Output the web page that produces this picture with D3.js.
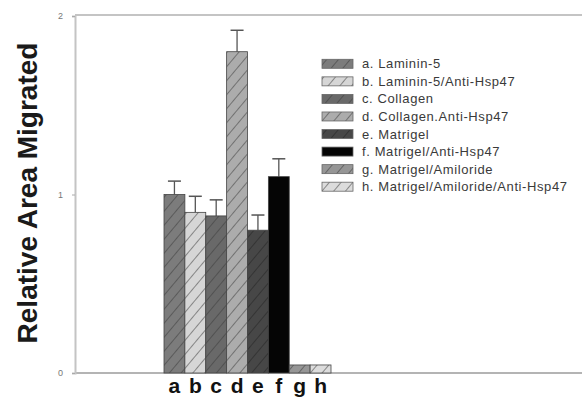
<!DOCTYPE html>
<html>
<head>
<meta charset="utf-8">
<script src="https://cdn.jsdelivr.net/npm/d3@7"></script>
<style>
  body { margin: 0; background: #fff; }
  svg { display: block; }
</style>
</head>
<body>
<div id="chart"></div>
<script>
var categories = ["a", "b", "c", "d", "e", "f", "g", "h"];
var values = [1.0, 0.9, 0.88, 1.8, 0.8, 1.1, 0.045, 0.045];
var errors = [0.075, 0.09, 0.09, 0.12, 0.085, 0.1, 0, 0];
var legendLabels = ["a. Laminin-5", "b. Laminin-5/Anti-Hsp47", "c. Collagen", "d. Collagen.Anti-Hsp47",
  "e. Matrigel", "f. Matrigel/Anti-Hsp47", "g. Matrigel/Amiloride", "h. Matrigel/Amiloride/Anti-Hsp47"];
var yTicks = [0, 1, 2];

var fills = ["#7c7c7c", "#d6d6d6", "#696969", "#acacac", "#474747", "#050505", "#969696", "#dcdcdc"];
var hatched = [true, true, true, true, true, false, true, true];

var W = 582, H = 402;
var svg = d3.select("#chart").append("svg").attr("width", W).attr("height", H);

var y = d3.scaleLinear().domain([0, 2]).range([373, 16]);
var x = d3.scaleBand().domain(categories).range([164, 331]).padding(0);

// hatch patterns
var defs = svg.append("defs");
fills.forEach(function(c, i) {
  var p = defs.append("pattern")
    .attr("id", "hatch" + i)
    .attr("patternUnits", "userSpaceOnUse")
    .attr("width", 9).attr("height", 9)
    .attr("patternTransform", "rotate(40)");
  p.append("rect").attr("width", 9).attr("height", 9).attr("fill", c);
  p.append("line").attr("x1", 0).attr("y1", 0).attr("x2", 0).attr("y2", 9)
    .attr("stroke", i == 4 ? "#222" : "#3a3a3a").attr("stroke-width", 1.3).attr("stroke-opacity", 0.8);
});
function fillOf(i) { return hatched[i] ? "url(#hatch" + i + ")" : fills[i]; }

// frame
svg.append("line").attr("x1", 75).attr("x2", W).attr("y1", 15).attr("y2", 15)
  .attr("stroke", "#c4c4c4").attr("stroke-width", 2);
svg.append("line").attr("x1", 75).attr("x2", W).attr("y1", 373).attr("y2", 373)
  .attr("stroke", "#b4b4b4").attr("stroke-width", 2);

var yAxis = svg.append("g").attr("transform", "translate(75,0)")
  .call(d3.axisLeft(y).tickValues(yTicks).tickFormat(d3.format("d")).tickSize(3).tickPadding(9));
yAxis.select(".domain").attr("stroke", "#c4c4c4").attr("stroke-width", 2);
yAxis.selectAll(".tick line").attr("stroke", "#aaa");
yAxis.selectAll("text").attr("fill", "#777").style("font-family", "Liberation Sans, Arial, sans-serif").style("font-size", "9px");

// error bars
var err = svg.append("g");
categories.forEach(function(c, i) {
  if (!errors[i]) return;
  var cx = x(c) + x.bandwidth() / 2;
  err.append("line").attr("x1", cx).attr("x2", cx)
    .attr("y1", y(values[i])).attr("y2", y(values[i] + errors[i]))
    .attr("stroke", "#555").attr("stroke-width", 1.3);
  err.append("line").attr("x1", cx - 6.5).attr("x2", cx + 6.5)
    .attr("y1", y(values[i] + errors[i])).attr("y2", y(values[i] + errors[i]))
    .attr("stroke", "#555").attr("stroke-width", 1.5);
});

// bars
svg.append("g").selectAll("rect")
  .data(values)
  .enter().append("rect")
  .attr("x", function(d, i) { return x(categories[i]); })
  .attr("y", function(d) { return y(d); })
  .attr("width", x.bandwidth())
  .attr("height", function(d) { return y(0) - y(d); })
  .attr("fill", function(d, i) { return fillOf(i); })
  .attr("stroke", "#444")
  .attr("stroke-width", 0.8);

// x labels
svg.append("g").selectAll("text")
  .data(categories)
  .enter().append("text")
  .attr("x", function(d) { return x(d) + x.bandwidth() / 2; })
  .attr("y", 393)
  .attr("text-anchor", "middle")
  .style("font-family", "Liberation Sans, Arial, sans-serif")
  .style("font-weight", "bold")
  .style("font-size", "21px")
  .attr("fill", "#111")
  .text(function(d) { return d; });

// y title
svg.append("text")
  .attr("transform", "translate(37,193) rotate(-90)")
  .attr("text-anchor", "middle")
  .style("font-family", "Liberation Sans, Arial, sans-serif")
  .style("font-weight", "bold")
  .style("font-size", "28px")
  .attr("fill", "#1a1a1a")
  .text("Relative Area Migrated");

// legend
var leg = svg.append("g");
var rowY = d3.scaleLinear().domain([0, 7]).range([63.8, 186.7]);
legendLabels.forEach(function(l, i) {
  leg.append("rect").attr("x", 322).attr("y", rowY(i) - 4.5).attr("width", 31).attr("height", 9)
    .attr("fill", fillOf(i)).attr("stroke", "#666").attr("stroke-width", 0.8);
  leg.append("text").attr("x", 362).attr("y", rowY(i) + 4.5)
    .style("font-family", "Liberation Sans, Arial, sans-serif")
    .style("font-size", "13px")
    .style("letter-spacing", "0.6px")
    .attr("fill", "#3a3a3a")
    .text(l);
});
</script>
</body>
</html>
